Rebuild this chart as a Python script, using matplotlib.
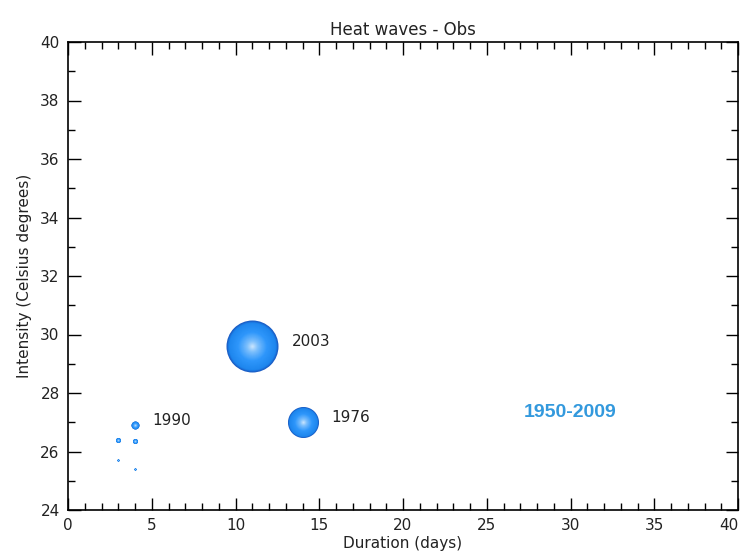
import numpy as np
import matplotlib
matplotlib.use("Agg")
import matplotlib.pyplot as plt
from matplotlib.colors import LinearSegmentedColormap

# Data
years = ["2003", "1976", "1990", "", "", "", ""]
duration = [11, 14, 4, 3, 4, 3, 4]
intensity = [29.6, 27.0, 26.9, 26.4, 26.35, 25.7, 25.4]
severity = [52, 31, 8, 5, 5, 2, 2]   # bubble diameter (px)

period_label = "1950-2009"
title = "Heat waves - Obs"
xlabel = "Duration (days)"
ylabel = "Intensity (Celsius degrees)"

DPI = 100
fig = plt.figure(figsize=(7.44, 5.59), dpi=DPI)
ax = fig.add_axes([68/744, 1-510/559, (738-68)/744, (510-42)/559])

cmap = LinearSegmentedColormap.from_list(
    "sph", [(0.0, "#1a5cc4"), (0.08, "#1d86ee"), (0.45, "#2f97fb"),
            (0.8, "#7cbffc"), (1.0, "#c4e2fd")])

px2pt = 72.0 / DPI
nlayers = 30
for x, y, d in zip(duration, intensity, severity):
    dpt = d * px2pt
    for i in range(nlayers):
        f = 1 - i / nlayers
        ax.scatter([x], [y], s=(dpt * f) ** 2, color=cmap(i / (nlayers - 1)),
                   linewidths=0, zorder=3 + i * 0.001)

for x, y, d, lab in zip(duration, intensity, severity, years):
    if lab:
        ax.annotate(lab, (x, y), xytext=(d * px2pt / 2 + 9.5, 3.3),
                    textcoords="offset points", ha="left", va="center",
                    fontsize=11, color="#222222")

ax.text(30.0, 27.35, period_label, ha="center", va="center", fontsize=14,
        color="#3399dd", fontweight="bold", family="Liberation Sans")

ax.set_xlim(0, 40)
ax.set_ylim(24, 40)
ax.set_xticks(np.arange(0, 41, 5))
ax.set_yticks(np.arange(24, 41, 2))
ax.set_xticks(np.arange(0, 41, 1), minor=True)
ax.set_yticks(np.arange(24, 41, 1), minor=True)
ax.tick_params(which="both", direction="in", top=True, right=True, color="black",
               labelsize=11, labelcolor="#222222", width=1)
ax.tick_params(which="major", length=9, pad=6)
ax.tick_params(which="minor", length=5)
for lbl in ax.get_xticklabels():
    if lbl.get_text() == "40":
        lbl.set_horizontalalignment("right")
for s in ax.spines.values():
    s.set_linewidth(1.2)

ax.set_title(title, fontsize=12, color="#222222", pad=5)
ax.set_xlabel(xlabel, fontsize=11, color="#222222", labelpad=2)
ax.set_ylabel(ylabel, fontsize=11, color="#222222", labelpad=6)

fig.savefig("out.png", dpi=DPI)
